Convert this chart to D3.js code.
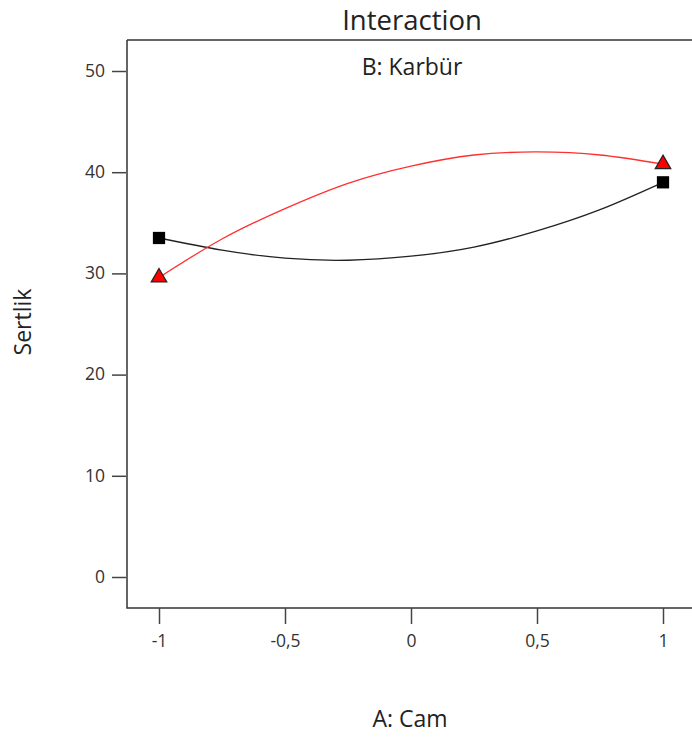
<!DOCTYPE html>
<html><head><meta charset="utf-8">
<script src="https://cdn.jsdelivr.net/npm/d3@7"></script>
<style>body{margin:0;background:#fff;}svg{display:block;font-family:"Open Sans","Noto Sans",sans-serif;}</style>
</head><body><svg id="c" width="692" height="738"></svg>
<script>
const xTicks = [-1, -0.5, 0, 0.5, 1];
const xTickLabels = ["-1", "-0,5", "0", "0,5", "1"];
const yTicks = [0, 10, 20, 30, 40, 50];
// Curve points
const curveX = [-1, -0.75, -0.5, -0.25, 0, 0.25, 0.5, 0.75, 1];
const lowCurve = [33.5, 32.3, 31.5, 31.3, 31.7, 32.6, 34.2, 36.3, 39.0];   // black
const highCurve = [29.6, 33.4, 36.4, 38.9, 40.6, 41.7, 42.0, 41.7, 40.8];  // red
const endX = [-1, 1];
const lowEnds = [33.5, 39.0];
const highEnds = [29.6, 40.8];

const svg = d3.select("#c");
const x = d3.scaleLinear().domain([-1, 1]).range([159, 663]);
const y = d3.scaleLinear().domain([0, 50]).range([577, 71]);

// frame
svg.append("path").attr("d", "M127,40V608H692").attr("fill","none").attr("stroke","#333").attr("stroke-width",1.5);
svg.append("line").attr("x1",127).attr("x2",692).attr("y1",40).attr("y2",40).attr("stroke","#333").attr("stroke-width",1.5);

const yAxis = d3.axisLeft(y).tickValues(yTicks).tickSize(14).tickPadding(7).tickFormat(d3.format("d"));
const gy = svg.append("g").attr("transform","translate(126,0)").call(yAxis);
gy.select(".domain").remove();
gy.selectAll("line").attr("stroke","#444").attr("stroke-width",1.5);
gy.selectAll("text").attr("font-size",17.5).attr("fill","#333").attr("font-family","Open Sans, Noto Sans, sans-serif").attr("dy","0.3em");

const xAxis = d3.axisBottom(x).tickValues(xTicks).tickSize(16).tickPadding(11).tickFormat((d,i)=>xTickLabels[i]);
const gx = svg.append("g").attr("transform","translate(0,608)").call(xAxis);
gx.select(".domain").remove();
gx.selectAll("line").attr("stroke","#444").attr("stroke-width",1.5);
gx.selectAll("text").attr("font-size",17.5).attr("fill","#333").attr("font-family","Open Sans, Noto Sans, sans-serif");

const line = d3.line().x((d,i)=>x(curveX[i])).y(d=>y(d)).curve(d3.curveNatural);
svg.append("path").attr("d", line(lowCurve)).attr("fill","none").attr("stroke","#222").attr("stroke-width",1.3);
svg.append("path").attr("d", line(highCurve)).attr("fill","none").attr("stroke","#ff3030").attr("stroke-width",1.3);

const sq = d3.symbol().type(d3.symbolSquare).size(150);
const tri = d3.symbol().type(d3.symbolTriangle).size(105);
svg.selectAll(".sq").data(lowEnds).join("path").attr("class","sq")
  .attr("transform",(d,i)=>`translate(${x(endX[i])},${y(d)})`).attr("d",sq).attr("fill","#000");
svg.selectAll(".tri").data(highEnds).join("path").attr("class","tri")
  .attr("transform",(d,i)=>`translate(${x(endX[i])},${y(d)})`).attr("d",tri).attr("fill","#ff0000").attr("stroke","#222").attr("stroke-width",1.2);

svg.append("text").attr("x",412).attr("y",29.5).attr("text-anchor","middle").attr("font-size",27.5).attr("fill","#222").text("Interaction");
svg.append("text").attr("x",412).attr("y",75).attr("text-anchor","middle").attr("font-size",23).attr("fill","#222").text("B: Karbür");
svg.append("text").attr("x",410).attr("y",727).attr("text-anchor","middle").attr("font-size",23).attr("fill","#222").text("A: Cam");
svg.append("text").attr("transform","translate(31,322) rotate(-90)").attr("text-anchor","middle").attr("font-size",23).attr("fill","#222").text("Sertlik");
</script></body></html>
